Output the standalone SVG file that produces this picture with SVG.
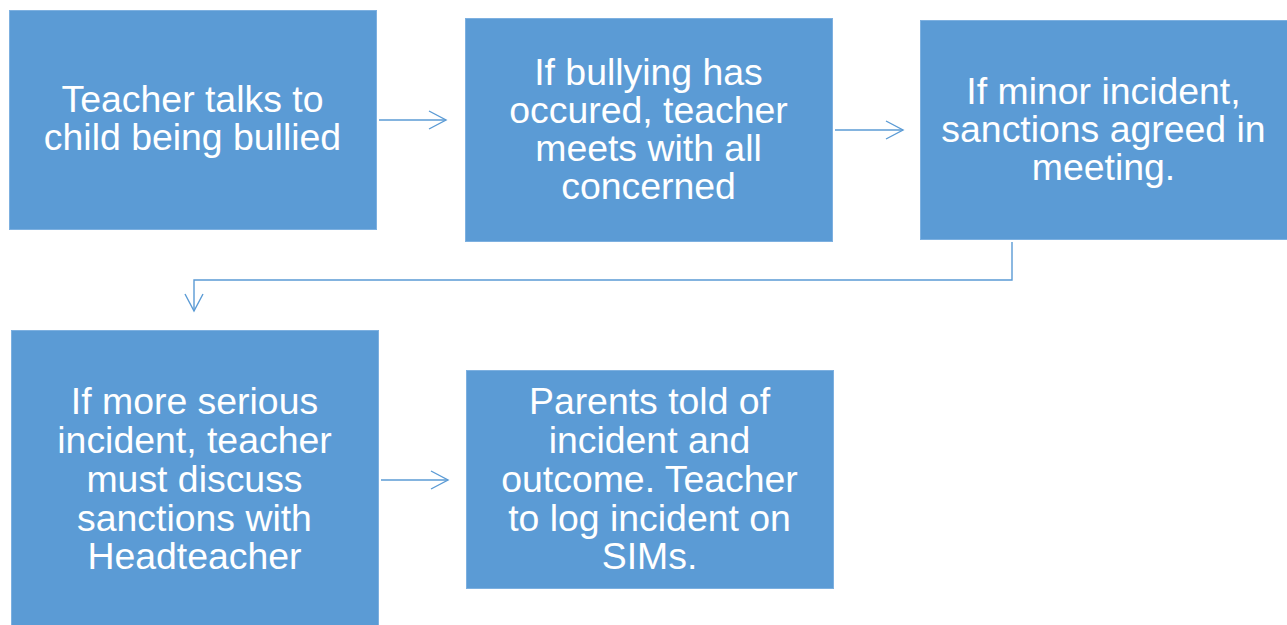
<svg xmlns="http://www.w3.org/2000/svg" width="1287" height="625" viewBox="0 0 1287 625">
  <style>
    .box { fill: #5B9BD5; stroke: #7DB0E0; stroke-width: 1; }
    .label { font-family: "Liberation Sans", Arial, sans-serif; font-size: 37.4px; fill: #ffffff; text-anchor: middle; }
    .conn { fill: none; stroke: #5B9BD5; stroke-width: 1.4; marker-end: url(#chevron); }
  </style>
  <defs>
    <marker id="chevron" markerUnits="userSpaceOnUse" viewBox="0 0 20 20" refX="18" refY="10" markerWidth="20" markerHeight="20" orient="auto">
      <path d="M1,1 L18,10 L1,19" fill="none" stroke="#5B9BD5" stroke-width="1.4"/>
    </marker>
  </defs>

  <rect width="1287" height="625" fill="#ffffff"/>

  <g id="connectors">
    <path class="conn" d="M379,120 H446"/>
    <path class="conn" d="M835,130 H903"/>
    <path class="conn" d="M1012,242 V280 H194 V311"/>
    <path class="conn" d="M381,480 H448"/>
  </g>

  <g id="node-talk">
    <rect class="box" x="9.5" y="10.5" width="367" height="219"/>
    <text class="label" x="192.5" y="112">Teacher talks to</text>
    <text class="label" x="192.5" y="150">child being bullied</text>
  </g>

  <g id="node-meet">
    <rect class="box" x="465.5" y="18.5" width="367" height="223"/>
    <text class="label" x="648.5" y="85">If bullying has</text>
    <text class="label" x="648.5" y="123">occured, teacher</text>
    <text class="label" x="648.5" y="161">meets with all</text>
    <text class="label" x="648.5" y="199">concerned</text>
  </g>

  <g id="node-minor">
    <rect class="box" x="920.5" y="20.5" width="367" height="219"/>
    <text class="label" x="1103.5" y="104">If minor incident,</text>
    <text class="label" x="1103.5" y="142">sanctions agreed in</text>
    <text class="label" x="1103.5" y="180">meeting.</text>
  </g>

  <g id="node-serious">
    <rect class="box" x="11.5" y="330.5" width="367" height="300"/>
    <text class="label" x="194.5" y="414">If more serious</text>
    <text class="label" x="194.5" y="453">incident, teacher</text>
    <text class="label" x="194.5" y="492">must discuss</text>
    <text class="label" x="194.5" y="531">sanctions with</text>
    <text class="label" x="194.5" y="569">Headteacher</text>
  </g>

  <g id="node-parents">
    <rect class="box" x="466.5" y="370.5" width="367" height="218"/>
    <text class="label" x="649.5" y="414">Parents told of</text>
    <text class="label" x="649.5" y="453">incident and</text>
    <text class="label" x="649.5" y="492">outcome. Teacher</text>
    <text class="label" x="649.5" y="531">to log incident on</text>
    <text class="label" x="649.5" y="569">SIMs.</text>
  </g>
</svg>
